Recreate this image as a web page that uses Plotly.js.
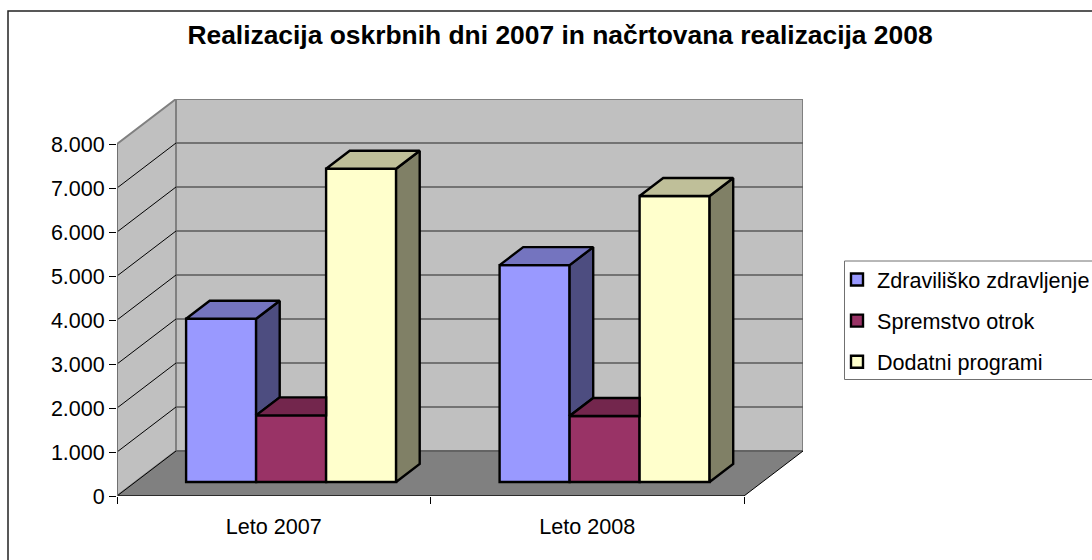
<!DOCTYPE html>
<html>
<head>
<meta charset="utf-8">
<script src="https://cdn.plot.ly/plotly-3.0.1.min.js"></script>
<style>html,body{margin:0;padding:0;background:#fff}#chart{width:1092px;height:560px}</style>
</head>
<body>
<div id="chart"></div>
<script>
const titleText = 'Realizacija oskrbnih dni 2007 in načrtovana realizacija 2008';
const categories = ['Leto 2007', 'Leto 2008'];
const seriesNames = ['Zdraviliško zdravljenje', 'Spremstvo otrok', 'Dodatni programi'];
const zdravilisko = [3710, 4930];
const spremstvo = [1515, 1500];
const dodatni = [7120, 6500];
const frontColors = ['#9999ff', '#993366', '#ffffcc'];
const sideColors = ['#4d4d80', '#4d1a33', '#808066'];
const topColors = ['#7474bf', '#73264d', '#bfbf99'];
const yTicks = [0, 1000, 2000, 3000, 4000, 5000, 6000, 7000, 8000];
const yTickLabels = ['0', '1.000', '2.000', '3.000', '4.000', '5.000', '6.000', '7.000', '8.000'];

const FONT = 'Liberation Sans, Arial, sans-serif';
// plot frame in px
const L = 117, T = 99, B = 496, R = 803, PXX = 313.5, PXY = 0.044;
// one full unit of depth, in data units
const DX = 59 / PXX, DY = 45 / PXY;
const xMax = 2, yMax = 8000;
const d0 = 0.311, dBar = 0.4;       // depth position of the bars
const barW = 70 / PXX;
const catCentre = [0.5 - 1 / PXX, 1.5 - 1 / PXX];
const labelCentre = [0.5, 1.5];

const series = [zdravilisko, spremstvo, dodatni];
const P = (x, y, d) => [x + d * DX, y + d * DY];
const path = pts => 'M' + pts.map(p => p.join(',')).join('L') + 'Z';

const shapes = [];
const wallLine = {color: '#808080', width: 2};
// left wall, back wall, floor
shapes.push({type: 'path', layer: 'below', xref: 'x', yref: 'y', fillcolor: '#c0c0c0', line: wallLine,
  path: path([P(0, 0, 0), P(0, 0, 1), P(0, yMax, 1), P(0, yMax, 0)])});
shapes.push({type: 'path', layer: 'below', xref: 'x', yref: 'y', fillcolor: '#c0c0c0', line: wallLine,
  path: path([P(0, 0, 1), P(xMax, 0, 1), P(xMax, yMax, 1), P(0, yMax, 1)])});
shapes.push({type: 'path', layer: 'below', xref: 'x', yref: 'y', fillcolor: '#808080', line: {width: 0},
  path: path([P(0, 0, 0), P(xMax, 0, 0), P(xMax, 0, 1), P(0, 0, 1)])});
// gridlines
yTicks.slice(1, -1).forEach(v => {
  const a = P(0, v, 0), b = P(0, v, 1), c = P(xMax, v, 1);
  shapes.push({type: 'line', layer: 'below', x0: a[0], y0: a[1], x1: b[0], y1: b[1], line: {color: '#000', width: 1}});
  shapes.push({type: 'line', layer: 'below', x0: b[0], y0: b[1], x1: c[0], y1: c[1], line: {color: '#5a5a5a', width: 1.5}});
});
{
  const b = P(0, 0, 1), c = P(xMax, 0, 1);
  shapes.push({type: 'line', layer: 'below', x0: b[0], y0: b[1], x1: c[0], y1: c[1], line: {color: '#5a5a5a', width: 1.5}});
}
// floor edges and axis lines
{
  const a = P(0, 0, 0), b = P(0, 0, 1), c = P(xMax, 0, 0), d = P(xMax, 0, 1);
  shapes.push({type: 'line', layer: 'below', x0: a[0], y0: a[1], x1: b[0], y1: b[1], line: {color: '#000', width: 1}});
  shapes.push({type: 'line', layer: 'below', x0: c[0], y0: c[1], x1: d[0], y1: d[1], line: {color: '#000', width: 1}});
  shapes.push({type: 'line', layer: 'below', x0: 0, y0: 0, x1: xMax, y1: 0, line: {color: '#111', width: 1.5}});
  shapes.push({type: 'line', layer: 'below', x0: 0, y0: 0, x1: 0, y1: yMax, line: {color: '#707070', width: 2}});
}
// chart frame (runs off the right and bottom of the picture) and legend frame
shapes.push({type: 'rect', layer: 'below', xref: 'paper', yref: 'paper',
  x0: (8 - L) / (R - L), x1: (1200 - L) / (R - L), y0: (B - 700) / (B - T), y1: (B - 11) / (B - T),
  fillcolor: 'rgba(0,0,0,0)', line: {color: '#222', width: 1.5}});
shapes.push({type: 'rect', layer: 'below', xref: 'paper', yref: 'paper',
  x0: (844.5 - L) / (R - L), x1: (1200 - L) / (R - L), y0: (B - 379.5) / (B - T), y1: (B - 261) / (B - T),
  fillcolor: '#fff', line: {color: '#707070', width: 1}});

const barOffset = P(0, 0, d0);
const traces = [];
// front faces: real bars
series.forEach((vals, s) => {
  traces.push({
    type: 'bar', name: seriesNames[s],
    x: catCentre.map(c => c + barOffset[0]), y: vals,
    base: vals.map(() => barOffset[1]),
    width: barW, offset: (s - 1.5) * barW,
    marker: {color: frontColors[s], line: {color: '#000', width: 2.4}},
    legendgroup: 'g' + s, hoverinfo: 'skip', cliponaxis: false
  });
});
// side and top faces
const poly = (pts, color) => {
  const closed = pts.concat([pts[0]]);
  return {
    type: 'scatter', mode: 'lines', x: closed.map(p => p[0]), y: closed.map(p => p[1]),
    fill: 'toself', fillcolor: color, line: {color: '#000', width: 2.4},
    showlegend: false, hoverinfo: 'skip', cliponaxis: false
  };
};
categories.forEach((cat, c) => {
  series.forEach((vals, s) => {
    const v = vals[c];
    const next = s < series.length - 1 ? series[s + 1][c] : null;
    const left = catCentre[c] + (s - 1.5) * barW, right = left + barW;
    const d1 = d0 + dBar;
    // side face: only what rises above the next bar
    if (next === null || next < v) {
      const low = next === null ? 0 : next;
      traces.push(poly([P(right, low, d0), P(right, low, d1), P(right, v, d1), P(right, v, d0)], sideColors[s]));
    }
    // top face: cut at the next bar if that one is taller
    if (next !== null && next > v) {
      const edge = P(right, v, d0);
      traces.push(poly([P(left, v, d0), edge, [edge[0], P(left, v, d1)[1]], P(left, v, d1)], topColors[s]));
    } else {
      traces.push(poly([P(left, v, d0), P(right, v, d0), P(right, v, d1), P(left, v, d1)], topColors[s]));
    }
  });
});

const layout = {
  width: 1092, height: 560,
  paper_bgcolor: '#fff', plot_bgcolor: 'rgba(0,0,0,0)',
  margin: {l: L, r: 1092 - R, t: T, b: 560 - B, autoexpand: false},
  title: {text: '<b>' + titleText + '</b>', font: {family: FONT, size: 26.4, color: '#000'},
    x: 560 / 1092, xanchor: 'center', xref: 'container', y: 1 - 35 / 560, yanchor: 'middle', yref: 'container', automargin: false},
  xaxis: {
    type: 'linear', range: [0, (R - L) / PXX], fixedrange: true, showgrid: false, zeroline: false, showline: false,
    tickmode: 'array', tickvals: labelCentre, ticktext: categories, ticks: '', ticklen: 0,
    tickfont: {family: FONT, size: 21.6, color: '#000'}, ticklabelstandoff: 15,
    minor: {tickmode: 'array', tickvals: [0, 1, 2], ticks: 'outside', ticklen: 7, tickwidth: 1, tickcolor: '#000', showgrid: false}
  },
  yaxis: {
    type: 'linear', range: [0, (B - T) / PXY], fixedrange: true, showgrid: false, zeroline: false, showline: false,
    tickmode: 'array', tickvals: yTicks, ticktext: yTickLabels, ticks: 'outside', ticklen: 7, tickwidth: 1, tickcolor: '#000',
    tickfont: {family: FONT, size: 21.5, color: '#000'}
  },
  barmode: 'overlay',
  showlegend: true,
  legend: {
    xref: 'paper', yref: 'paper', x: (837 - L) / (R - L), xanchor: 'left', y: (B - 259) / (B - T), yanchor: 'top',
    font: {family: FONT, size: 21.6, color: '#000'}, bgcolor: 'rgba(0,0,0,0)', borderwidth: 0,
    traceorder: 'grouped', tracegroupgap: 10, itemclick: false, itemdoubleclick: false
  },
  shapes: shapes
};
Plotly.newPlot('chart', traces, layout, {displayModeBar: false, staticPlot: true});
</script>
</body>
</html>
